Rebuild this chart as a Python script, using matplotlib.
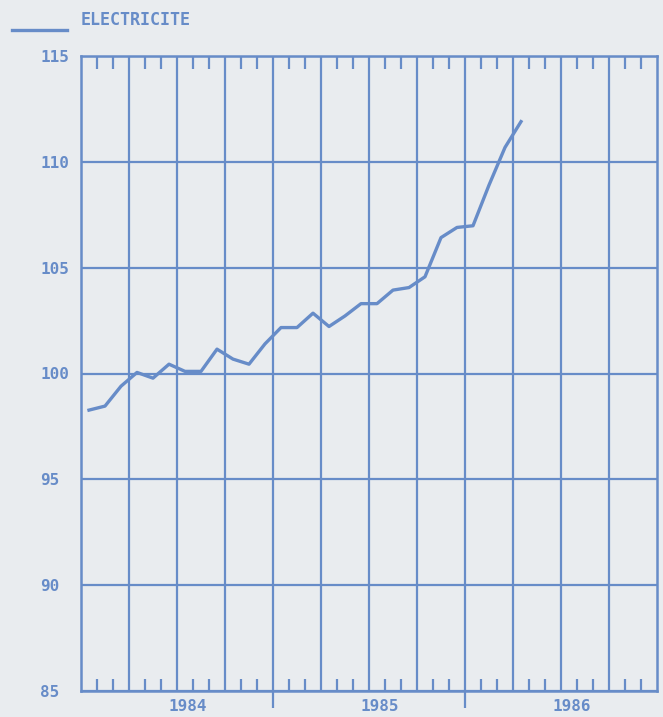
import matplotlib.pyplot as plt
from matplotlib.lines import Line2D
from matplotlib.transforms import blended_transform_factory

# monthly index, Jan 1984 .. Apr 1986
months = list(range(28))
values = [98.27, 98.46, 99.4, 100.05, 99.78, 100.44, 100.1, 100.1, 101.15, 100.68,
          100.44, 101.4, 102.17, 102.17, 102.85, 102.22, 102.72, 103.3, 103.3, 103.94,
          104.06, 104.57, 106.42, 106.9, 106.98, 108.9, 110.68, 111.9]
years = ['1984', '1985', '1986']
y_ticks = [85, 90, 95, 100, 105, 110, 115]
series_name = 'ELECTRICITE'

BG = '#e9ecef'
BLUE = '#678cc8'
FONT = 'DejaVu Sans Mono'

fig = plt.figure(figsize=(6.63, 7.17), dpi=100, facecolor=BG)
ax = fig.add_axes([81 / 663, 1 - 691 / 717, 576 / 663, 635 / 717], facecolor=BG)

x = [m + 0.5 for m in months]
ax.plot(x, values, color=BLUE, lw=2.4, solid_joinstyle='round', zorder=3)

ax.set_xlim(0, 36)
ax.set_ylim(85, 115)

# quarter grid lines
for q in range(3, 36, 3):
    ax.axvline(q, color=BLUE, lw=1.6, zorder=1)
ax.set_yticks(y_ticks)
ax.yaxis.grid(True, color=BLUE, lw=1.6)
ax.set_axisbelow(True)
ax.set_yticklabels([str(v) for v in y_ticks], fontsize=11.5, fontweight='bold',
                   color=BLUE, family=FONT)
ax.tick_params(axis='y', length=0, pad=29.5)
for lab in ax.get_yticklabels():
    lab.set_horizontalalignment('left')

for s in ax.spines.values():
    s.set_color(BLUE)
    s.set_linewidth(1.8)

# year separators stick out below, monthly ticks point inwards
ax.set_xticks([12, 24])
ax.set_xticklabels([])
ax.tick_params(axis='x', which='major', direction='out', length=12, width=1.6, color=BLUE)
ax.set_xticks([m for m in range(1, 36) if m % 3 != 0], minor=True)
ax.tick_params(axis='x', which='minor', direction='in', length=9, width=1.6, color=BLUE,
               top=True, bottom=True)

trans = blended_transform_factory(ax.transData, ax.transAxes)
for i, yr in enumerate(years):
    ax.text(12 * i + 6.65, -0.0245, yr, transform=trans, ha='center', va='center',
            fontsize=11.5, fontweight='bold', color=BLUE, family=FONT)

# legend drawn by hand above the axes
fig.add_artist(Line2D([12 / 663, 67 / 663], [1 - 29.5 / 717] * 2, color=BLUE, lw=2.4))
fig.text(81 / 663, 1 - 20 / 717, series_name, ha='left', va='center',
         fontsize=12, fontweight='bold', color=BLUE, family=FONT)

fig.savefig('out.png', dpi=100, facecolor=BG)
